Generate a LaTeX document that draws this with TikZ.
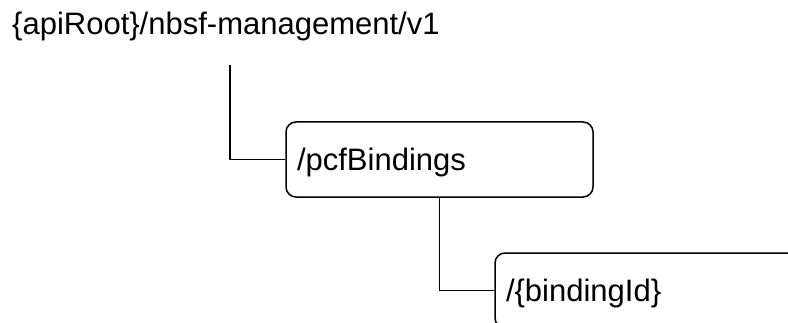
\documentclass[tikz,border=0pt]{standalone}
\usepackage{fontspec}
\setmainfont{Liberation Sans}
\usepackage{tikz}

\begin{document}
\begin{tikzpicture}[x=1pt,y=1pt,
    res/.style={draw, line width=1.5pt, rounded corners=10pt, minimum width=307pt,
        minimum height=75pt, inner xsep=11pt, text width=285pt, align=left,
        text height=22pt, text depth=0pt, font=\fontsize{31}{36}\selectfont},
    link/.style={line width=1.5pt}]
    \useasboundingbox (0,0) rectangle (788,322);

    % Wurzel
    \node[anchor=base west, inner sep=0pt, font=\fontsize{31}{36}\selectfont] (root) at (12,287) {\{apiRoot\}/nbsf-management/v1};
    \coordinate (roottop) at (230,257);

    % Ressourcen
    \node[res] (pcf) at (439.5,162.5) {/pcfBindings};
    \node[res] (binding) at (648.5,31.5) {/\{bindingId\}};

    % Verbindungen
    \draw[link] (roottop) |- (pcf.west);
    \draw[link] (pcf.south) |- (binding.west);
\end{tikzpicture}
\end{document}
